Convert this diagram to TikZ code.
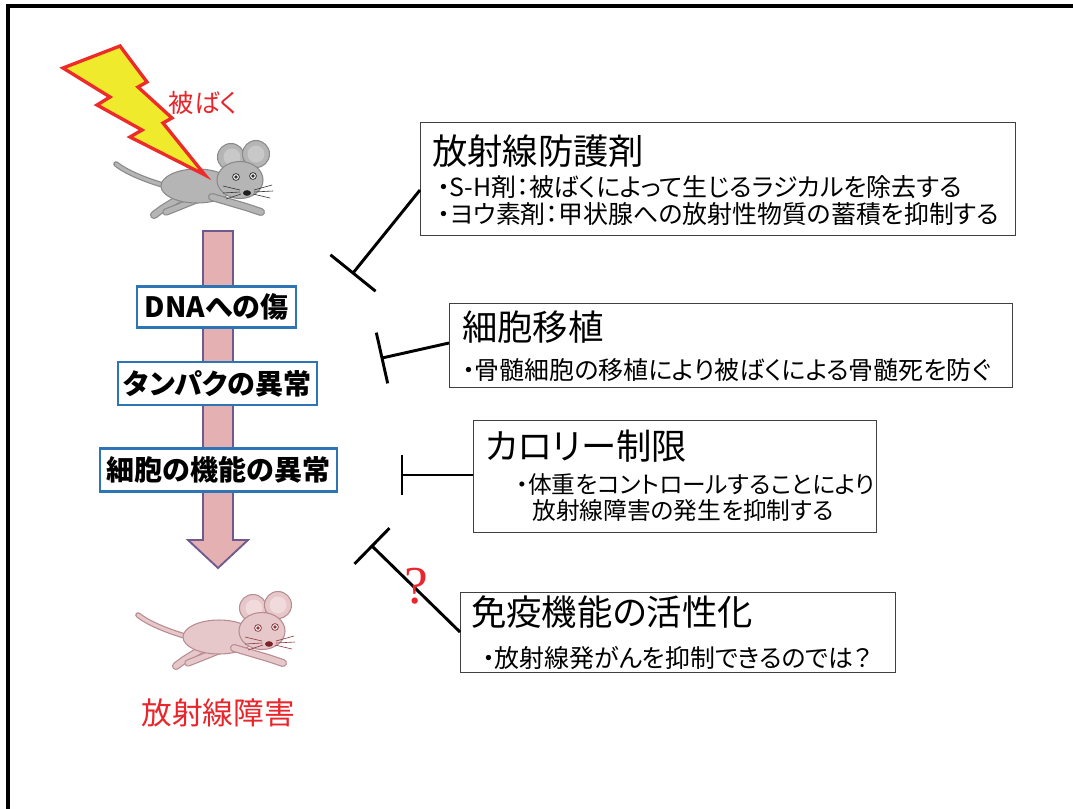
\documentclass[tikz,border=0pt]{standalone}
\usepackage{fontspec}
\newfontfamily\jp[RawFeature=+palt]{Noto Sans CJK JP}
\newfontfamily\qfont{Liberation Serif}
\usetikzlibrary{calc}

\definecolor{boltyellow}{HTML}{F0EA2C}
\definecolor{boltred}{HTML}{EE2B2B}
\definecolor{stepblue}{HTML}{2E75B6}
\definecolor{arrowfill}{HTML}{E4B0B2}
\definecolor{arrowedge}{HTML}{6E5A8E}
\definecolor{labelred}{HTML}{E8262B}
\definecolor{boxedge}{HTML}{404040}
% grey mouse
\definecolor{mgFill}{HTML}{B5B5B5}
\definecolor{mgEdge}{HTML}{8A8A8A}
\definecolor{mgEar}{HTML}{C8C8C8}
\definecolor{mgEye}{HTML}{333333}
\definecolor{mgNose}{HTML}{1E1E1E}
% pink mouse
\definecolor{mpFill}{HTML}{E6C8CA}
\definecolor{mpEdge}{HTML}{B88C92}
\definecolor{mpEar}{HTML}{F0DADC}
\definecolor{mpEye}{HTML}{8E3A40}
\definecolor{mpNose}{HTML}{7E2228}

\def\pxu{0.75pt}

% a running mouse; #1 shift, #2 fill, #3 outline, #4 inner ear, #5 eye, #6 nose
\newcommand\mousefig[6]{%
\begin{scope}[shift={(#1)}]
  % tail
  \draw[color=#3, line width=4.2pt, line cap=round] (166,186) .. controls (145,180) and (126,172) .. (116,164);
  \draw[color=#2, line width=2.4pt, line cap=round] (166,186) .. controls (145,180) and (126,172) .. (116,164);
  % hind legs
  \draw[color=#3, line width=6pt, line cap=round, line join=round] (183,196) -- (162,209) -- (154,215);
  \draw[color=#2, line width=4.2pt, line cap=round, line join=round] (183,196) -- (162,209) -- (154,215);
  \draw[color=#3, line width=5.5pt, line cap=round, line join=round] (196,200) -- (176,208) -- (166,212);
  \draw[color=#2, line width=3.7pt, line cap=round, line join=round] (196,200) -- (176,208) -- (166,212);
  % body
  \fill[color=#2, draw=#3, line width=0.8pt] (197,186) ellipse[x radius=36, y radius=17];
  % front leg
  \draw[color=#3, line width=6pt, line cap=round, line join=round] (212,197) -- (246,207) -- (261,212);
  \draw[color=#2, line width=4.2pt, line cap=round, line join=round] (212,197) -- (246,207) -- (261,212);
  % ears
  \fill[color=#2, draw=#3, line width=0.8pt] (231,157) circle[radius=13.5];
  \fill[color=#2, draw=#3, line width=0.8pt] (256,154) circle[radius=13.5];
  \fill[color=#4] (232,157) circle[radius=8.5];
  \fill[color=#4] (256,154) circle[radius=8.5];
  % head
  \fill[color=#2, draw=#3, line width=0.8pt] (240,180) ellipse[x radius=23, y radius=18.5];
  % eyes
  \fill[white, draw=#5, line width=0.6pt] (236,177) circle[radius=3.4];
  \fill[white, draw=#5, line width=0.6pt] (253,176) circle[radius=3.4];
  \fill[color=#5] (236,177) circle[radius=1.8];
  \fill[color=#5] (253,176) circle[radius=1.8];
  % nose
  \fill[color=#6] (247,193) ellipse[x radius=4, y radius=2.8];
  % whiskers
  \draw[color=#5, line width=0.45pt]
    (240,190) -- (223,186) (240,192) -- (223,193) (241,194) -- (226,199)
    (254,190) -- (272,185) (254,192) -- (273,191) (253,194) -- (270,198);
\end{scope}}

\begin{document}
\begin{tikzpicture}[x=0.75pt, y=-0.75pt,
  stepbox/.style={draw=stepblue, line width=2.2pt, fill=white, inner sep=0pt,
    font=\jp\bfseries\fontsize{21}{24}\selectfont},
  infobox/.style={draw=boxedge, line width=1pt, fill=white, inner sep=0pt, anchor=north west},
  titletext/.style={anchor=west, inner sep=0pt, font=\jp\fontsize{26.5}{30}\selectfont},
  bodytext/.style={anchor=west, inner sep=0pt, font=\jp\fontsize{18.7}{22}\selectfont},
  smallbody/.style={anchor=west, inner sep=0pt, font=\jp\fontsize{17.8}{21}\selectfont},
  inhibit/.style={line width=2.2pt, black, line cap=butt},
]
\useasboundingbox (0,0) rectangle (1073,808);
\fill[white] (0,0) rectangle (1073,808);

% slide frame
\draw[line width=3pt] (8,812) -- (8,6) -- (1077,6);

% exposed mouse and lightning
\mousefig{0,0}{mgFill}{mgEdge}{mgEar}{mgEye}{mgNose}
\fill[boltyellow, draw=boltred, line width=2.5pt, line join=miter]
  (63,68) -- (120,46) -- (147,82) -- (138,87) -- (172,118) -- (163,123)
  -- (205,175) -- (130,137) -- (142,130) -- (97,105) -- (110,97) -- cycle;
\node[inner sep=0pt, text=labelred, font=\jp\fontsize{19}{22}\selectfont] (hibaku) at (203,103) {被ばく};

% progression arrow
\draw[fill=arrowfill, draw=arrowedge, line width=1.4pt, line join=miter]
  (203,231) -- (233,231) -- (233,540) -- (248,540) -- (218,568) -- (188,540) -- (203,540) -- cycle;

\node[stepbox, minimum width=159*\pxu, minimum height=41*\pxu] (s1) at (216.5,307) {DNAへの傷};
\node[stepbox, minimum width=199*\pxu, minimum height=43*\pxu] (s2) at (217.5,383.5) {タンパクの異常};
\node[stepbox, minimum width=237*\pxu, minimum height=43*\pxu] (s3) at (218.5,470) {細胞の機能の異常};

% damaged mouse
\mousefig{22,451}{mpFill}{mpEdge}{mpEar}{mpEye}{mpNose}
\node[inner sep=0pt, text=labelred, font=\jp\fontsize{23}{26}\selectfont] (injury) at (218,713) {放射線障害};

% countermeasure boxes
\node[infobox, minimum width=595*\pxu, minimum height=113*\pxu] (p1) at (420,122) {};
\node[titletext] (p1t) at (432,151) {放射線防護剤};
\node[bodytext] (p1a) at (437,187) {・S-H剤：被ばくによって生じるラジカルを除去する};
\node[bodytext] (p1b) at (437,214) {・ヨウ素剤：甲状腺への放射性物質の蓄積を抑制する};

\node[infobox, minimum width=563*\pxu, minimum height=84*\pxu] (p2) at (449,303) {};
\node[titletext] (p2t) at (462,327) {細胞移植};
\node[bodytext] (p2a) at (462,370) {・骨髄細胞の移植により被ばくによる骨髄死を防ぐ};

\node[infobox, minimum width=403*\pxu, minimum height=112*\pxu] (p3) at (473,420) {};
\node[titletext] (p3t) at (485,446) {カロリー制限};
\node[smallbody] (p3a) at (516,484) {・体重をコントロールすることにより};
\node[smallbody] (p3b) at (532,511) {放射線障害の発生を抑制する};

\node[infobox, minimum width=435*\pxu, minimum height=80*\pxu] (p4) at (460,592) {};
\node[titletext] (p4t) at (471,612) {免疫機能の活性化};
\node[bodytext] (p4a) at (482,658) {・放射線発がんを抑制できるのでは？};

% inhibition connectors: a line ending in a crossbar
\coordinate (c1) at (420,190);  \coordinate (e1) at (353,273);
\coordinate (c2) at (449,343);  \coordinate (e2) at (382,358);
\coordinate (c3) at (473,475);  \coordinate (e3) at (402,475);
\coordinate (c4) at (460,632);  \coordinate (e4) at (372,546);
\draw[inhibit] (c1) -- (e1);
\draw[inhibit] ($(e1)!21.75pt!90:(c1)$) -- ($(e1)!21.75pt!-90:(c1)$);
\draw[inhibit] (c2) -- (e2);
\draw[inhibit] ($(e2)!19.5pt!90:(c2)$) -- ($(e2)!19.5pt!-90:(c2)$);
\draw[inhibit] (c3) -- (e3);
\draw[inhibit] ($(e3)!15pt!90:(c3)$) -- ($(e3)!15pt!-90:(c3)$);
\draw[inhibit] (c4) -- (e4);
\draw[inhibit] ($(e4)!18.75pt!90:(c4)$) -- ($(e4)!18.75pt!-90:(c4)$);

\node[inner sep=0pt, text=labelred, font=\qfont\fontsize{40}{40}\selectfont] (qmark) at (416,586) {?};
\end{tikzpicture}
\end{document}
